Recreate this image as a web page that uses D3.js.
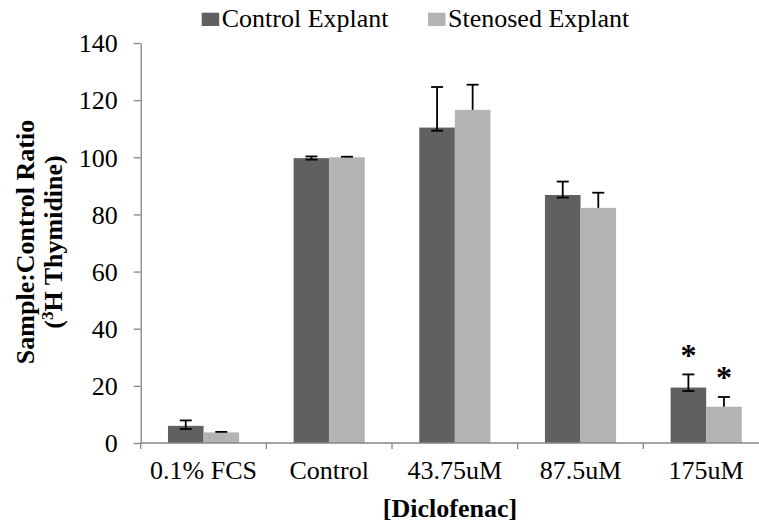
<!DOCTYPE html>
<html>
<head>
<meta charset="utf-8">
<script src="https://cdn.jsdelivr.net/npm/d3@7"></script>
<style>
    html, body { margin: 0; padding: 0; background: #ffffff; }
    text { font-family: "Liberation Serif", "Times New Roman", serif; fill: #000; }
</style>
</head>
<body>
<div id="chart"></div>
<script>
// values
const categories = ["0.1% FCS", "Control", "43.75uM", "87.5uM", "175uM"];
const seriesNames = ["Control Explant", "Stenosed Explant"];
const controlValues = [6.0, 99.7, 110.4, 86.8, 19.4];
const stenosedValues = [3.7, 100.0, 116.6, 82.3, 12.7];
const controlErrUp = [1.9, 0.6, 14.2, 4.7, 4.6];
const controlErrDown = [1.1, 0.5, 1.1, 0.9, 1.2];
const stenosedErrUp = [0.2, 0.2, 8.8, 5.3, 3.4];
const stenosedErrDown = [0, 0, 0, 0, 0];
const significant = [false, false, false, false, true];
const yTicks = [0, 20, 40, 60, 80, 100, 120, 140];
const colors = ["#606060", "#b3b3b3"];

const width = 759, height = 528;
const margin = { top: 43, right: -10, bottom: 85, left: 140.7 };
const fontSize = 26;

const svg = d3.select('#chart').append('svg')
    .attr('width', width).attr('height', height);
svg.append('rect').attr('width', width).attr('height', height).attr('fill', '#fff');

const x = d3.scaleBand()
    .domain(categories)
    .range([margin.left, width - margin.right])
    .paddingInner(0.434)
    .paddingOuter(0.217);

const xSeries = d3.scaleBand()
    .domain(seriesNames)
    .range([0, x.bandwidth()])
    .padding(0);

const y = d3.scaleLinear()
    .domain([0, 140])
    .range([height - margin.bottom, margin.top]);

var rows = categories.map(function (c, i) {
    return {
        cat: c,
        bars: [
            { name: seriesNames[0], value: controlValues[i], up: controlErrUp[i], down: controlErrDown[i], sig: significant[i] },
            { name: seriesNames[1], value: stenosedValues[i], up: stenosedErrUp[i], down: stenosedErrDown[i], sig: significant[i] },
        ]
    };
});

// y axis
const yAxis = svg.append('g')
    .attr('transform', `translate(${margin.left},0)`)
    .call(d3.axisLeft(y).tickValues(yTicks).tickSize(7).tickSizeOuter(0));
yAxis.select('.domain').attr('stroke', '#868686').attr('stroke-width', 1.3);
yAxis.selectAll('.tick line').attr('stroke', '#868686').attr('stroke-width', 1.3);
yAxis.selectAll('.tick text')
    .attr('font-size', fontSize)
    .attr('font-family', '"Liberation Serif", "Times New Roman", serif')
    .attr('fill', '#000')
    .attr('x', -23)
    .attr('dy', '0.34em');

// bars
const groups = svg.selectAll('g.group')
    .data(rows).enter()
    .append('g')
    .attr('class', 'group')
    .attr('transform', d => `translate(${x(d.cat)},0)`);

groups.selectAll('rect')
    .data(d => d.bars).enter()
    .append('rect')
    .attr('x', d => xSeries(d.name))
    .attr('width', xSeries.bandwidth())
    .attr('y', d => y(d.value))
    .attr('height', d => y(0) - y(d.value))
    .attr('fill', (d, i) => colors[i]);

// x axis line and category ticks
const x0 = y(0);
svg.append('line')
    .attr('x1', margin.left).attr('x2', width)
    .attr('y1', x0).attr('y2', x0)
    .attr('stroke', '#868686').attr('stroke-width', 1.5);

var half = (x.step() - x.bandwidth()) / 2;
var bounds = categories.map(c => x(c) - half);
svg.selectAll('line.xtick')
    .data(bounds).enter()
    .append('line')
    .attr('class', 'xtick')
    .attr('x1', d => d).attr('x2', d => d)
    .attr('y1', x0).attr('y2', x0 + 6)
    .attr('stroke', '#868686').attr('stroke-width', 1.3);

svg.selectAll('text.xlabel')
    .data(categories).enter()
    .append('text')
    .attr('class', 'xlabel')
    .attr('text-anchor', 'middle')
    .attr('font-size', fontSize)
    .attr('x', d => x(d) + x.bandwidth() / 2)
    .attr('y', 479)
    .text(d => d);

// error bars
const capHalf = 6;
const errs = groups.selectAll('g.err')
    .data(d => d.bars).enter()
    .append('g')
    .attr('class', 'err')
    .attr('transform', d => `translate(${xSeries(d.name) + xSeries.bandwidth() / 2},0)`);

errs.append('line')
    .attr('x1', 0).attr('x2', 0)
    .attr('y1', d => y(d.value - d.down))
    .attr('y2', d => y(d.value + d.up))
    .attr('stroke', '#000').attr('stroke-width', 1.8);
errs.append('line')
    .attr('x1', -capHalf).attr('x2', capHalf)
    .attr('y1', d => y(d.value + d.up))
    .attr('y2', d => y(d.value + d.up))
    .attr('stroke', '#000').attr('stroke-width', 1.8);
errs.filter(d => d.down > 0).append('line')
    .attr('x1', -capHalf).attr('x2', capHalf)
    .attr('y1', d => y(d.value - d.down))
    .attr('y2', d => y(d.value - d.down))
    .attr('stroke', '#000').attr('stroke-width', 1.8);

// significance marks
const starSize = 32;
errs.filter(d => d.sig).append('text')
    .attr('text-anchor', 'middle')
    .attr('font-size', starSize)
    .attr('font-weight', 'bold')
    .attr('x', 0)
    .attr('y', d => y(d.value + d.up) - 23.5 + 0.46 * starSize)
    .text('*');

// legend
const legend = svg.append('g');
const legendX = [201.7, 428];
seriesNames.forEach(function (name, i) {
    legend.append('rect')
        .attr('x', legendX[i]).attr('y', 12.7)
        .attr('width', 17.5).attr('height', 13.3)
        .attr('fill', colors[i]);
    legend.append('text')
        .attr('font-size', fontSize)
        .attr('x', legendX[i] + 20)
        .attr('y', 27)
        .text(name);
});

// axis titles
svg.append('text')
    .attr('text-anchor', 'middle')
    .attr('font-size', fontSize)
    .attr('font-weight', 'bold')
    .attr('x', 450).attr('y', 517)
    .text('[Diclofenac]');

const yTitle = svg.append('text')
    .attr('text-anchor', 'middle')
    .attr('font-size', fontSize)
    .attr('font-weight', 'bold')
    .attr('transform', 'translate(0,242) rotate(-90)');
yTitle.append('tspan').attr('x', 0).attr('y', 34).text('Sample:Control Ratio');
const line2 = yTitle.append('tspan').attr('x', 0).attr('y', 62);
line2.append('tspan').text('(');
line2.append('tspan').attr('font-size', 17).attr('dy', -9).text('3');
line2.append('tspan').attr('dy', 9).text('H Thymidine)');
</script>
</body>
</html>
